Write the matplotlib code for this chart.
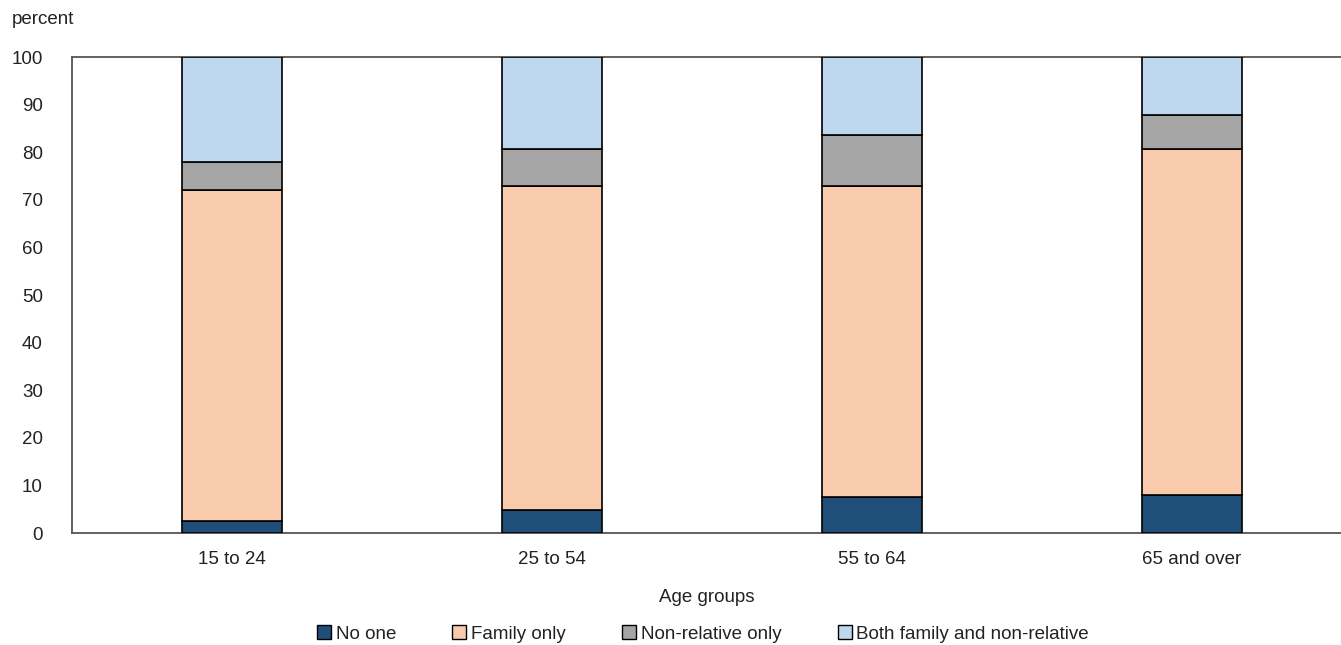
import numpy as np
import matplotlib
matplotlib.use("Agg")
import matplotlib.pyplot as plt
from matplotlib.patches import Patch

plt.rcParams['font.family'] = ['Liberation Sans', 'DejaVu Sans']

# data (percent)
age_groups = ["15 to 24", "25 to 54", "55 to 64", "65 and over"]
no_one = [2.5, 4.8, 7.6, 7.9]
family_only = [69.5, 68.1, 65.3, 72.7]
non_relative_only = [5.9, 7.8, 10.7, 7.2]
both = [22.1, 19.3, 16.4, 12.2]

series = [
    ("No one", no_one, "#1F4E79"),
    ("Family only", family_only, "#F8CBAD"),
    ("Non-relative only", non_relative_only, "#A5A5A5"),
    ("Both family and non-relative", both, "#BDD7EE"),
]

fs = 13.5

fig = plt.figure(figsize=(13.41, 6.45), dpi=100)
ax = fig.add_axes([72/1341, 1 - 533/645, 1 - 72/1341, 476/645])

x = np.arange(len(age_groups))
bottom = np.zeros(len(age_groups))
for name, vals, col in series:
    ax.bar(x, vals, width=100/320, bottom=bottom, color=col,
           edgecolor="black", linewidth=1.2, label=name, zorder=3)
    bottom += np.array(vals)

ax.set_xlim(-0.5, -0.5 + (1341 - 72) / 320)
ax.set_ylim(0, 100)
ax.set_yticks(range(0, 101, 10))
ax.set_xticks(x)
ax.set_xticklabels(age_groups)
ax.tick_params(axis='both', length=0, labelsize=fs, colors="#222222")
ax.tick_params(axis='y', pad=21)
ax.tick_params(axis='x', pad=13)

for s in ["left", "bottom", "top"]:
    ax.spines[s].set_color("#555555")
    ax.spines[s].set_linewidth(1.3)
ax.spines["right"].set_visible(False)

fig.text(12/1341, 1 - 20/645, "percent", fontsize=fs, color="#222222",
         ha="left", va="center")
fig.text(0.5 + 36/1341, 1 - 598/645, "Age groups", fontsize=fs, color="#222222",
         ha="center", va="center")

handles = [Patch(facecolor=c, edgecolor="black", linewidth=1.0) for _, _, c in series]
labels = [n for n, _, _ in series]
fig.legend(handles, labels, loc="center", bbox_to_anchor=(703/1341, 1 - 634/645),
           ncol=4, frameon=False, fontsize=fs, handlelength=0.75, handleheight=0.75,
           handletextpad=0.25, columnspacing=3.0, labelcolor="#222222")

fig.savefig("out.png", dpi=100)
